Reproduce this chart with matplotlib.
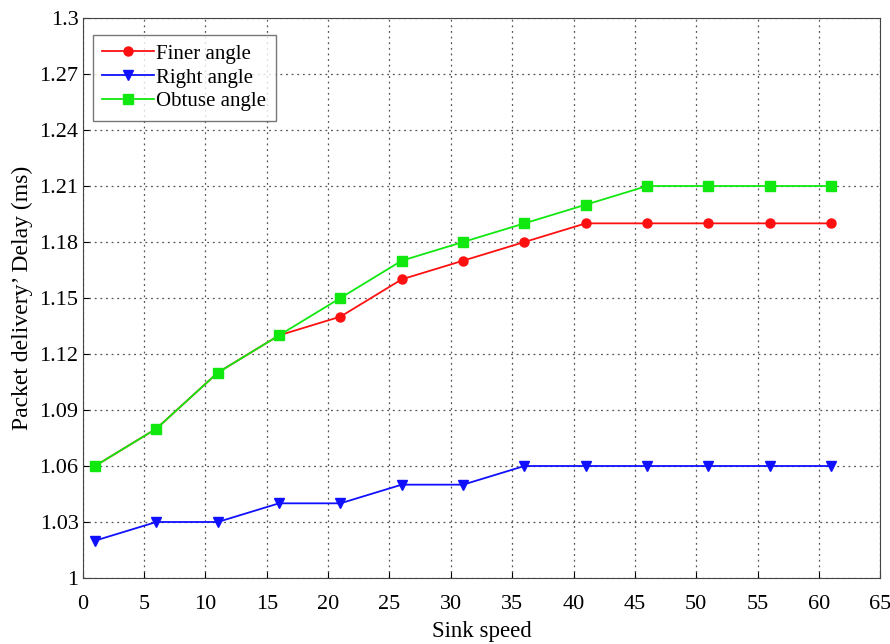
import matplotlib
matplotlib.use('Agg')
import matplotlib.pyplot as plt
import numpy as np

# Data
sink_speed = [1, 6, 11, 16, 21, 26, 31, 36, 41, 46, 51, 56, 61]
finer_angle = [1.06, 1.08, 1.11, 1.13, 1.14, 1.16, 1.17, 1.18, 1.19, 1.19, 1.19, 1.19, 1.19]
right_angle = [1.02, 1.03, 1.03, 1.04, 1.04, 1.05, 1.05, 1.06, 1.06, 1.06, 1.06, 1.06, 1.06]
obtuse_angle = [1.06, 1.08, 1.11, 1.13, 1.15, 1.17, 1.18, 1.19, 1.20, 1.21, 1.21, 1.21, 1.21]
y_ticks = [1.0, 1.03, 1.06, 1.09, 1.12, 1.15, 1.18, 1.21, 1.24, 1.27, 1.3]
y_tick_labels = ['1', '1.03', '1.06', '1.09', '1.12', '1.15', '1.18', '1.21', '1.24', '1.27', '1.3']

plt.rcParams['font.family'] = ['Liberation Serif', 'DejaVu Serif']

fig = plt.figure(figsize=(8.9, 6.44), dpi=100)
ax = fig.add_axes([0.093, 0.1025, 0.896, 0.8695])

ax.plot(sink_speed, finer_angle, color='#ff1010', marker='o', markersize=6.5,
        linewidth=1.3, label='Finer angle')
ax.plot(sink_speed, right_angle, color='#1010ff', marker='v', markersize=7.5,
        linewidth=1.3, label='Right angle')
ax.plot(sink_speed, obtuse_angle, color='#10e810', marker='s', markersize=7,
        linewidth=1.3, label='Obtuse angle')

ax.set_xlim(0, 65)
ax.set_ylim(1, 1.3)
ax.set_xticks(np.arange(0, 66, 5))
ax.set_yticks(y_ticks)
ax.set_yticklabels(y_tick_labels)
ax.tick_params(direction='in', labelsize=16, length=4)
ax.tick_params(axis='x', pad=12)
ax.tick_params(axis='y', pad=3)
ax.grid(True, linestyle=(0, (1.5, 3)), color='#555555', linewidth=0.9)

ax.set_xlabel('Sink speed', fontsize=16.5, labelpad=5)
ax.set_ylabel('Packet delivery\u2019 Delay (ms)', fontsize=17, labelpad=5)

for s in ax.spines.values():
    s.set_color('#444444')

# Legend box in the upper left corner
leg = ax.legend(loc='upper left', bbox_to_anchor=(0.0125, 0.97), borderaxespad=0,
                fontsize=15, frameon=True, fancybox=False,
                edgecolor='#555555', handlelength=2.5, handletextpad=0.1,
                labelspacing=0.2, borderpad=0.45)
leg.get_frame().set_linewidth(1.0)

fig.savefig('out.png', dpi=100)
